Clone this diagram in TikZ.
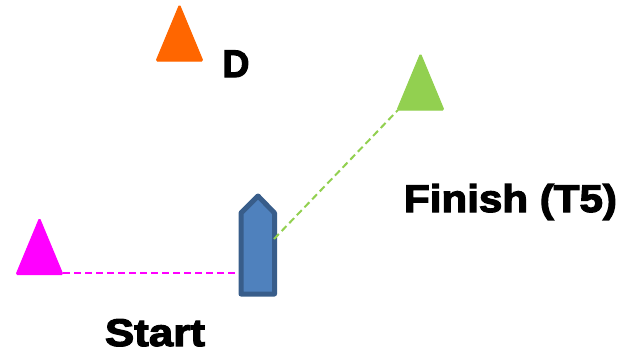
\documentclass[tikz,border=0pt]{standalone}
\usepackage{fontspec}
\usetikzlibrary{shapes.geometric}
\newfontfamily\blk[BoldFeatures={FakeBold=3.2,FakeStretch=1.14}]{Liberation Sans}
\definecolor{magmark}{HTML}{FF00FF}
\definecolor{orgmark}{HTML}{FF6600}
\definecolor{grnmark}{HTML}{92D050}
\definecolor{boatfill}{HTML}{4F81BD}
\definecolor{boatline}{HTML}{385D8A}
\tikzset{
  x=1bp,y=-1bp,
  buoy/.style={isosceles triangle,isosceles triangle stretches=true,shape border rotate=90,
    minimum width=47bp,minimum height=56.5bp,inner sep=0pt,outer sep=0pt,
    rounded corners=1.5bp,line width=1bp,line join=round},
  lbl/.style={font=\blk\bfseries\fontsize{38.5bp}{38.5bp}\selectfont,text=black,inner sep=0pt,anchor=base},
  course/.style={dashed,dash pattern=on 7bp off 4bp,line width=2bp},
  boatbox/.style={minimum width=39bp,minimum height=103bp,inner sep=0pt,outer sep=0pt}
}
\begin{document}
\begin{tikzpicture}
\useasboundingbox (0,0) rectangle (638,354);
\node[buoy,draw=magmark,fill=magmark] (start) at (39.5,259) {};
\node[buoy,draw=orgmark,fill=orgmark] (mark) at (179.5,45.5) {};
\node[buoy,draw=grnmark,fill=grnmark] (finish) at (420.5,94.5) {};
\node[boatbox] (boat) at (258,245) {};
\coordinate (boatport) at (238,273);
\coordinate (boatstar) at (274,239);
\coordinate (startend) at (63,273);
\coordinate (finishend) at (398,110);
\draw[course,magmark] (startend) -- (boatport);
\draw[line width=5bp,line join=round,draw=boatline,fill=boatfill]
  (241,213) -- (258,196) -- (274.5,213) -- (274.5,294) -- (241,294) -- cycle;
\draw[course,grnmark] (boatstar) -- (finishend);
\node[lbl] (lstart) at (155,346) {Start};
\node[lbl,xscale=.85,transform shape] (lmark) at (236,77) {D};
\node[lbl,xscale=.96,transform shape] (lfinish) at (510.5,212) {Finish (T5)};
\end{tikzpicture}
\end{document}
